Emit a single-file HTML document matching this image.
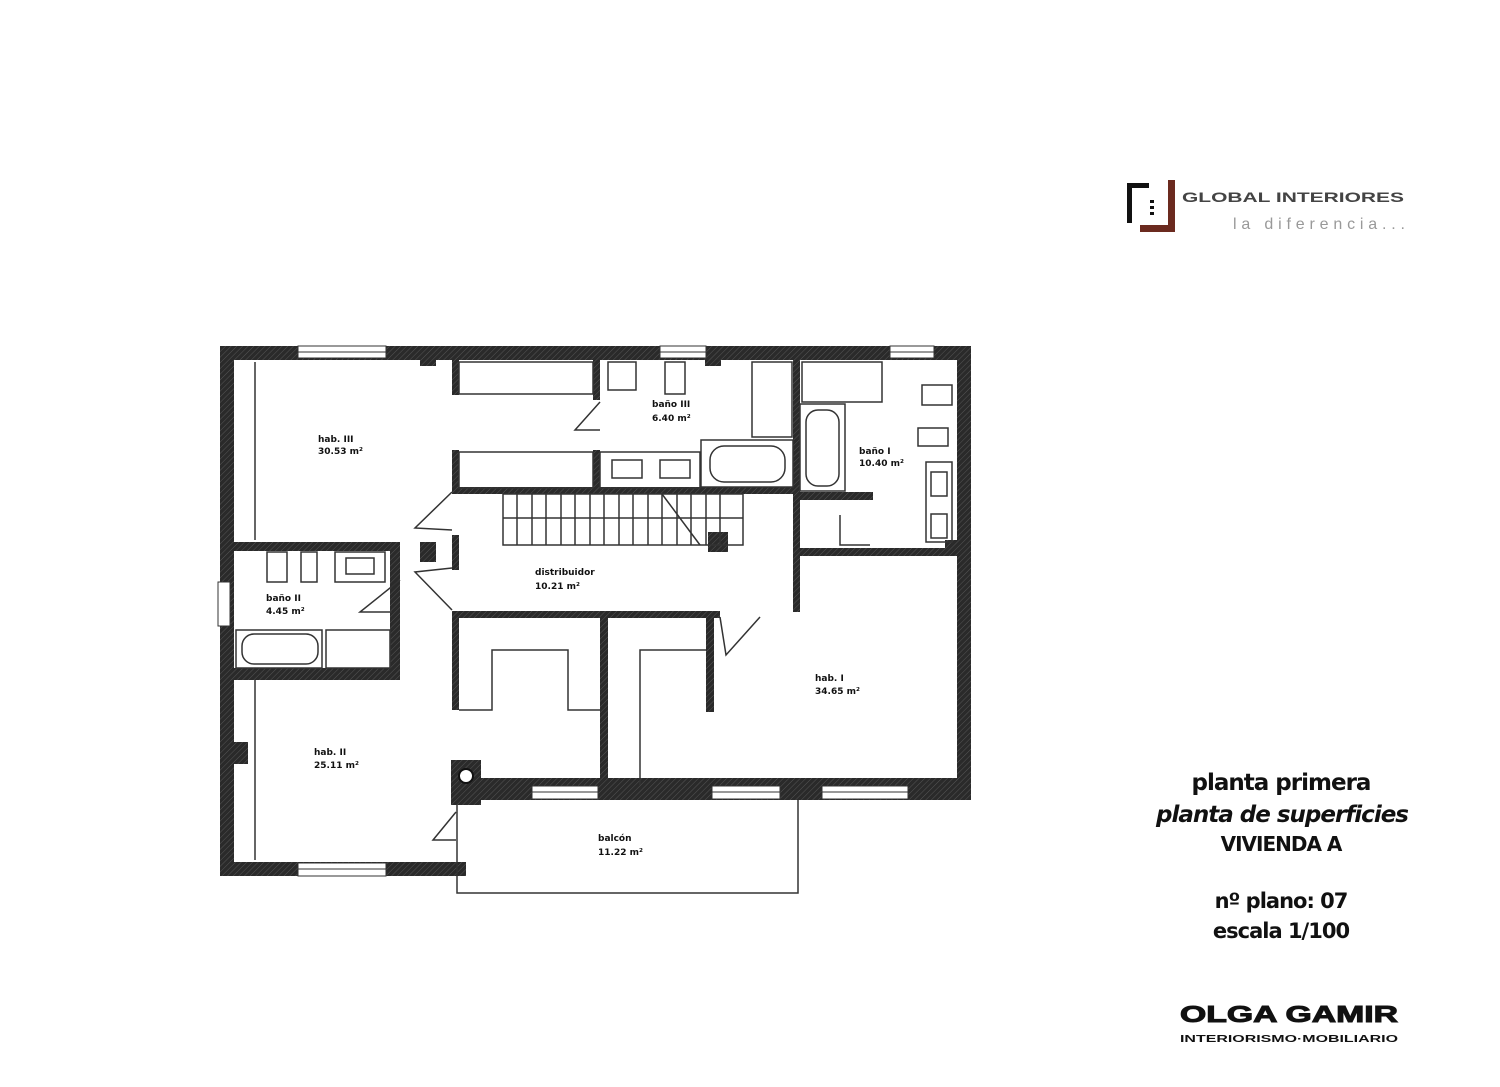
<!DOCTYPE html>
<html><head><meta charset="utf-8"><style>
html,body{margin:0;padding:0;background:#fff;width:1500px;height:1087px;overflow:hidden}
svg{position:absolute;left:0;top:0}
.t{font-family:"DejaVu Sans","Liberation Sans",sans-serif;font-weight:bold;fill:#111}
</style></head><body>
<svg width="1500" height="1087" viewBox="0 0 1500 1087">
<defs>
<pattern id="h" width="4" height="4" patternUnits="userSpaceOnUse" patternTransform="rotate(45)">
<rect width="4" height="4" fill="#2a2a2a"/><line x1="0" y1="0" x2="0" y2="4" stroke="#555" stroke-width="1"/>
</pattern>
</defs>
<g fill="url(#h)">
<rect x="220" y="346" width="751" height="14"/>
<rect x="220" y="346" width="14" height="530"/>
<rect x="957" y="346" width="14" height="454"/>
<rect x="220" y="862" width="246" height="14"/>
<rect x="452" y="778" width="519" height="22"/>
<rect x="452" y="360" width="7" height="35"/>
<rect x="452" y="450" width="7" height="42"/>
<rect x="452" y="487" width="348" height="7"/>
<rect x="234" y="542" width="166" height="9"/>
<rect x="420" y="542" width="16" height="20"/>
<rect x="452" y="535" width="7" height="35"/>
<rect x="390" y="551" width="10" height="129"/>
<rect x="234" y="668" width="166" height="12"/>
<rect x="593" y="360" width="7" height="40"/>
<rect x="593" y="450" width="7" height="40"/>
<rect x="793" y="360" width="7" height="252"/>
<rect x="800" y="492" width="73" height="8"/>
<rect x="800" y="548" width="157" height="8"/>
<rect x="452" y="611" width="268" height="7"/>
<rect x="452" y="611" width="7" height="99"/>
<rect x="600" y="618" width="8" height="167"/>
<rect x="706" y="618" width="8" height="94"/>
<rect x="451" y="760" width="30" height="45"/>
<rect x="420" y="346" width="16" height="20"/>
<rect x="705" y="346" width="16" height="20"/>
<rect x="945" y="346" width="26" height="14"/>
<rect x="945" y="540" width="26" height="16"/>
<rect x="778" y="778" width="22" height="22"/>
<rect x="234" y="742" width="14" height="22"/>
<rect x="708" y="532" width="20" height="20"/>
</g>
<g fill="#fff" stroke="#333" stroke-width="1">
<rect x="298" y="346" width="88" height="12"/>
<rect x="660" y="346" width="46" height="12"/>
<rect x="890" y="346" width="44" height="12"/>
<rect x="298" y="863" width="88" height="13"/>
<rect x="532" y="786" width="66" height="13"/>
<rect x="712" y="786" width="68" height="13"/>
<rect x="822" y="786" width="86" height="13"/>
<rect x="218" y="582" width="12" height="44"/>
</g>
<g stroke="#333" stroke-width="1">
<line x1="298" y1="352" x2="386" y2="352"/><line x1="660" y1="352" x2="706" y2="352"/><line x1="890" y1="352" x2="934" y2="352"/>
<line x1="298" y1="869" x2="386" y2="869"/><line x1="532" y1="792" x2="598" y2="792"/><line x1="712" y1="792" x2="780" y2="792"/><line x1="822" y1="792" x2="908" y2="792"/>
</g>
<circle cx="466" cy="776" r="7" fill="#fff" stroke="#111" stroke-width="2"/>
<g fill="none" stroke="#333" stroke-width="1.5">
<rect x="459" y="362" width="134" height="32"/>
<rect x="459" y="452" width="134" height="36"/>
<polyline points="459,710 492,710 492,650 568,650 568,710 600,710"/>
<polyline points="640,785 640,650 706,650"/>
<line x1="255" y1="362" x2="255" y2="540"/>
<line x1="255" y1="680" x2="255" y2="860"/>
<polyline points="457,805 457,893 798,893 798,800"/>
<rect x="503" y="494" width="240" height="51"/>
<line x1="503" y1="518" x2="743" y2="518"/>
<line x1="517" y1="494" x2="517" y2="545"/><line x1="532" y1="494" x2="532" y2="545"/><line x1="546" y1="494" x2="546" y2="545"/><line x1="561" y1="494" x2="561" y2="545"/><line x1="575" y1="494" x2="575" y2="545"/><line x1="590" y1="494" x2="590" y2="545"/><line x1="604" y1="494" x2="604" y2="545"/><line x1="619" y1="494" x2="619" y2="545"/><line x1="633" y1="494" x2="633" y2="545"/><line x1="648" y1="494" x2="648" y2="545"/><line x1="662" y1="494" x2="662" y2="545"/><line x1="677" y1="494" x2="677" y2="545"/><line x1="691" y1="494" x2="691" y2="545"/><line x1="706" y1="494" x2="706" y2="545"/><line x1="720" y1="494" x2="720" y2="545"/>
<line x1="662" y1="494" x2="700" y2="545"/>
<polyline points="452,492 415,528 452,530"/>
<polyline points="452,568 415,572 452,610"/>
<polyline points="400,580 360,612 392,612"/>
<polyline points="456,812 433,840 456,840"/>
<polyline points="720,617 726,655 760,617"/>
<polyline points="600,402 575,430 600,430"/>
<polyline points="840,515 840,545 870,545"/>
<rect x="608" y="362" width="28" height="28"/>
<rect x="665" y="362" width="20" height="32"/>
<rect x="600" y="452" width="100" height="36"/>
<rect x="612" y="460" width="30" height="18"/><rect x="660" y="460" width="30" height="18"/>
<rect x="701" y="440" width="92" height="47"/>
<rect x="710" y="446" width="75" height="36" rx="14"/>
<rect x="752" y="362" width="40" height="75"/>
<rect x="802" y="362" width="80" height="40"/>
<rect x="800" y="404" width="45" height="87"/>
<rect x="806" y="410" width="33" height="76" rx="12"/>
<rect x="922" y="385" width="30" height="20"/>
<rect x="918" y="428" width="30" height="18"/>
<rect x="926" y="462" width="26" height="80"/>
<rect x="931" y="472" width="16" height="24"/><rect x="931" y="514" width="16" height="24"/>
<rect x="267" y="552" width="20" height="30"/>
<rect x="301" y="552" width="16" height="30"/>
<rect x="335" y="552" width="50" height="30"/>
<rect x="346" y="558" width="28" height="16"/>
<rect x="236" y="630" width="86" height="38"/>
<rect x="242" y="634" width="76" height="30" rx="12"/>
<rect x="326" y="630" width="64" height="38"/>
</g>
<g class="t" font-size="9">
<text x="318" y="442">hab. III</text><text x="318" y="454">30.53 m²</text>
<text x="652" y="407">baño III</text><text x="652" y="421">6.40 m²</text>
<text x="859" y="454">baño I</text><text x="859" y="466">10.40 m²</text>
<text x="535" y="575">distribuidor</text><text x="535" y="589">10.21 m²</text>
<text x="266" y="601">baño II</text><text x="266" y="614">4.45 m²</text>
<text x="314" y="755">hab. II</text><text x="314" y="768">25.11 m²</text>
<text x="815" y="681">hab. I</text><text x="815" y="694">34.65 m²</text>
<text x="598" y="841">balcón</text><text x="598" y="855">11.22 m²</text>
</g>
<rect x="1127" y="183" width="22" height="5" fill="#111"/>
<rect x="1127" y="183" width="5" height="40" fill="#111"/>
<rect x="1168" y="180" width="7" height="52" fill="#6b2a1f"/>
<rect x="1140" y="225" width="35" height="7" fill="#6b2a1f"/>
<rect x="1150" y="200" width="4" height="3" fill="#111"/><rect x="1150" y="206" width="4" height="3" fill="#111"/><rect x="1150" y="212" width="4" height="3" fill="#111"/>
<text x="1182" y="202" textLength="222" lengthAdjust="spacingAndGlyphs" font-family="Liberation Sans,sans-serif" font-weight="bold" font-size="14" fill="#444">GLOBAL INTERIORES</text>
<text x="1233" y="229" textLength="172" lengthAdjust="spacing" font-family="Liberation Sans,sans-serif" font-size="16" fill="#999">la diferencia...</text>
<g font-family="DejaVu Sans,Liberation Sans,sans-serif" fill="#111" text-anchor="middle" font-weight="bold">
<text x="1281" y="790" font-size="23" letter-spacing="-1">planta primera</text>
<text x="1282" y="822" font-size="23" font-style="italic" letter-spacing="-1">planta de superficies</text>
<text x="1281" y="851" font-size="20" letter-spacing="-1">VIVIENDA A</text>
<text x="1281" y="908" font-size="21" letter-spacing="-1">nº plano: 07</text>
<text x="1281" y="938" font-size="21" letter-spacing="-1">escala 1/100</text>
</g>
<text x="1180" y="1022" textLength="218" lengthAdjust="spacingAndGlyphs" font-size="23" font-family="Liberation Sans,sans-serif" font-weight="bold" fill="#111" stroke="#111" stroke-width="1">OLGA GAMIR</text>
<text x="1180" y="1042" textLength="218" lengthAdjust="spacingAndGlyphs" font-size="10" font-family="Liberation Sans,sans-serif" font-weight="bold" fill="#111">INTERIORISMO·MOBILIARIO</text>
</svg>
</body></html>
